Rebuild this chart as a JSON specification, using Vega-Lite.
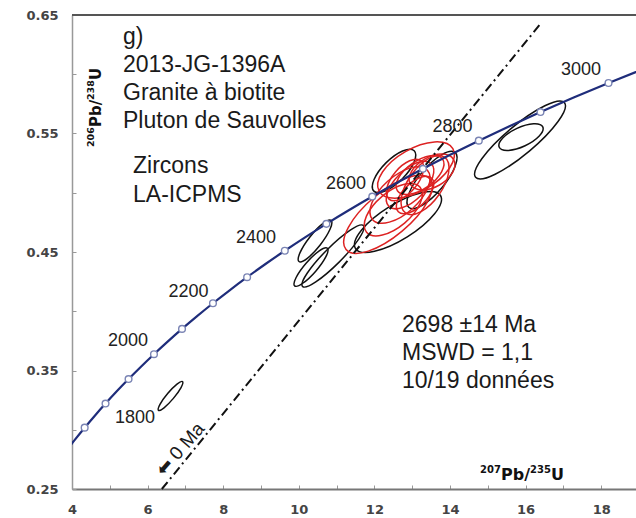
{
  "$schema": "https://vega.github.io/schema/vega-lite/v6.json",
  "width": 564,
  "height": 474,
  "autosize": {"type": "none"},
  "padding": {"left": 72, "top": 15, "right": 0, "bottom": 29},
  "background": "white",
  "config": {"view": {"stroke": null},
    "axisX": {"values": [4,5,6,7,8,9,10,11,12,13,14,15,16,17,18], "labelExpr": "datum.value % 2 === 0 ? datum.label : ''", "title": null, "grid": false, "domainColor": "#777777", "domainWidth": 2, "tickColor": "#999999", "tickSize": -4, "tickWidth": 1, "labelFont": "DejaVu Sans", "labelFontWeight": "bold", "labelFontSize": 13, "labelColor": "#444444", "labelPadding": 18, "labelFlush": false, "labelOverlap": false},
    "axisY": {"values": [0.25,0.3,0.35,0.4,0.45,0.5,0.55,0.6,0.65], "labelExpr": "round(datum.value*100) % 10 == 5 ? format(datum.value, '.2f') : ''", "title": null, "grid": false, "domainColor": "#999999", "domainWidth": 1.5, "tickColor": "#999999", "tickSize": -4, "tickWidth": 1, "labelFont": "DejaVu Sans", "labelFontWeight": "bold", "labelFontSize": 13, "labelColor": "#444444", "labelPadding": 18, "labelFlush": false, "labelOverlap": false}
  },
  "datasets": {
    "ellipses": [
      {"x": 6.606, "y": 0.3285, "axe": 0.99, "forme": "r20", "angle": 310, "grp": "rejetée"},
      {"x": 10.429, "y": 0.4593, "axe": 1.38, "forme": "r25", "angle": 308, "grp": "rejetée"},
      {"x": 10.323, "y": 0.4373, "axe": 1.32, "forme": "r25", "angle": 311, "grp": "rejetée"},
      {"x": 10.905, "y": 0.4466, "axe": 2.28, "forme": "r20", "angle": 315, "grp": "rejetée"},
      {"x": 12.519, "y": 0.5184, "axe": 1.51, "forme": "r40", "angle": 315, "grp": "rejetée"},
      {"x": 12.624, "y": 0.4753, "axe": 2.65, "forme": "r35", "angle": 328, "grp": "rejetée"},
      {"x": 13.524, "y": 0.5108, "axe": 1.9, "forme": "r35", "angle": 310, "grp": "rejetée"},
      {"x": 15.852, "y": 0.5445, "axe": 3.07, "forme": "r25", "angle": 320, "grp": "rejetée"},
      {"x": 15.878, "y": 0.547, "axe": 1.27, "forme": "r40", "angle": 335, "grp": "rejetée"},
      {"x": 13.101, "y": 0.5192, "axe": 2.25, "forme": "r50", "angle": 330, "grp": "retenue"},
      {"x": 12.36, "y": 0.4818, "axe": 2.9, "forme": "r40", "angle": 320, "grp": "retenue"},
      {"x": 12.677, "y": 0.4981, "axe": 1.95, "forme": "r50", "angle": 318, "grp": "retenue"},
      {"x": 12.942, "y": 0.5065, "axe": 1.59, "forme": "r50", "angle": 315, "grp": "retenue"},
      {"x": 13.206, "y": 0.515, "axe": 1.46, "forme": "r50", "angle": 325, "grp": "retenue"},
      {"x": 12.81, "y": 0.5108, "axe": 1.32, "forme": "r50", "angle": 310, "grp": "retenue"},
      {"x": 13.339, "y": 0.5065, "axe": 1.8, "forme": "r50", "angle": 305, "grp": "retenue"},
      {"x": 12.5, "y": 0.4857, "axe": 1.85, "forme": "r50", "angle": 320, "grp": "retenue"},
      {"x": 13.074, "y": 0.4981, "axe": 1.25, "forme": "r50", "angle": 315, "grp": "retenue"},
      {"x": 13.524, "y": 0.5175, "axe": 1.32, "forme": "r60", "angle": 330, "grp": "retenue"}
    ],
    "concordia": [
      {"t": 1600, "x": 3.8344, "y": 0.28171},
      {"t": 1650, "x": 4.0784, "y": 0.2917},
      {"t": 1700, "x": 4.3348, "y": 0.30175},
      {"t": 1750, "x": 4.604, "y": 0.31189},
      {"t": 1800, "x": 4.8869, "y": 0.3221},
      {"t": 1850, "x": 5.184, "y": 0.3324},
      {"t": 1900, "x": 5.4962, "y": 0.34277},
      {"t": 1950, "x": 5.8241, "y": 0.35323},
      {"t": 2000, "x": 6.1685, "y": 0.36377},
      {"t": 2050, "x": 6.5304, "y": 0.37439},
      {"t": 2100, "x": 6.9105, "y": 0.38509},
      {"t": 2150, "x": 7.3097, "y": 0.39587},
      {"t": 2200, "x": 7.7292, "y": 0.40674},
      {"t": 2250, "x": 8.1698, "y": 0.41769},
      {"t": 2300, "x": 8.6326, "y": 0.42873},
      {"t": 2350, "x": 9.1188, "y": 0.43986},
      {"t": 2400, "x": 9.6296, "y": 0.45107},
      {"t": 2450, "x": 10.1661, "y": 0.46237},
      {"t": 2500, "x": 10.7297, "y": 0.47376},
      {"t": 2550, "x": 11.3218, "y": 0.48523},
      {"t": 2600, "x": 11.9437, "y": 0.49679},
      {"t": 2650, "x": 12.5971, "y": 0.50845},
      {"t": 2700, "x": 13.2834, "y": 0.5202},
      {"t": 2750, "x": 14.0043, "y": 0.53203},
      {"t": 2800, "x": 14.7617, "y": 0.54396},
      {"t": 2850, "x": 15.5572, "y": 0.55598},
      {"t": 2900, "x": 16.393, "y": 0.5681},
      {"t": 2950, "x": 17.2709, "y": 0.58031},
      {"t": 3000, "x": 18.1931, "y": 0.59261},
      {"t": 3050, "x": 19.1619, "y": 0.60501}
    ],
    "etiquettes": [
      {"age": "1800", "x": 5.667, "y": 0.3095},
      {"age": "2000", "x": 5.481, "y": 0.3745},
      {"age": "2200", "x": 7.082, "y": 0.4162},
      {"age": "2400", "x": 8.868, "y": 0.4614},
      {"age": "2600", "x": 11.249, "y": 0.5078},
      {"age": "2800", "x": 14.066, "y": 0.5551},
      {"age": "3000", "x": 17.466, "y": 0.6032}
    ],
    "discordia": [
      {"x": 6.3767, "y": 0.25},
      {"x": 16.43, "y": 0.644}
    ],
    "cadre": [{"y": 0.65}],
    "annot": [{"x": 0}]
  },
  "layer": [
    {
      "data": {"name": "ellipses"},
      "mark": {"type": "point", "filled": false, "strokeWidth": 1.5, "opacity": 1},
      "encoding": {
        "x": {"field": "x", "type": "quantitative", "scale": {"domain": [4, 18.92], "nice": false, "zero": false}},
        "y": {"field": "y", "type": "quantitative", "scale": {"domain": [0.25, 0.65], "nice": false, "zero": false}},
        "size": {"field": "axe", "type": "quantitative", "scale": {"type": "pow", "exponent": 2, "domain": [0, 4], "range": [0, 22861]}, "legend": null},
        "shape": {"field": "forme", "type": "nominal", "legend": null, "scale": {
          "domain": ["r20", "r25", "r35", "r40", "r50", "r60"],
          "range": [
            "M1,0C1,0.1105 0.5523,0.2 0,0.2C-0.5523,0.2 -1,0.1105 -1,0C-1,-0.1105 -0.5523,-0.2 0,-0.2C0.5523,-0.2 1,-0.1105 1,0Z",
            "M1,0C1,0.1381 0.5523,0.25 0,0.25C-0.5523,0.25 -1,0.1381 -1,0C-1,-0.1381 -0.5523,-0.25 0,-0.25C0.5523,-0.25 1,-0.1381 1,0Z",
            "M1,0C1,0.1933 0.5523,0.35 0,0.35C-0.5523,0.35 -1,0.1933 -1,0C-1,-0.1933 -0.5523,-0.35 0,-0.35C0.5523,-0.35 1,-0.1933 1,0Z",
            "M1,0C1,0.2209 0.5523,0.4 0,0.4C-0.5523,0.4 -1,0.2209 -1,0C-1,-0.2209 -0.5523,-0.4 0,-0.4C0.5523,-0.4 1,-0.2209 1,0Z",
            "M1,0C1,0.2762 0.5523,0.5 0,0.5C-0.5523,0.5 -1,0.2762 -1,0C-1,-0.2762 -0.5523,-0.5 0,-0.5C0.5523,-0.5 1,-0.2762 1,0Z",
            "M1,0C1,0.3314 0.5523,0.6 0,0.6C-0.5523,0.6 -1,0.3314 -1,0C-1,-0.3314 -0.5523,-0.6 0,-0.6C0.5523,-0.6 1,-0.3314 1,0Z"
          ]}},
        "angle": {"field": "angle", "type": "quantitative", "scale": null},
        "color": {"field": "grp", "type": "nominal", "legend": null, "scale": {"domain": ["retenue", "rejetée"], "range": ["#dd2222", "#111111"]}}
      }
    },
    {
      "data": {"name": "cadre"},
      "mark": {"type": "rule", "color": "#555555", "strokeWidth": 2.2},
      "encoding": {"y": {"field": "y", "type": "quantitative", "scale": {"domain": [0.25, 0.65], "nice": false, "zero": false}}}
    },
    {
      "data": {"name": "discordia"},
      "mark": {"type": "line", "color": "#111111", "strokeWidth": 2, "strokeDash": [9, 4, 2, 4]},
      "encoding": {
        "x": {"field": "x", "type": "quantitative", "scale": {"domain": [4, 18.92], "nice": false, "zero": false}},
        "y": {"field": "y", "type": "quantitative", "scale": {"domain": [0.25, 0.65], "nice": false, "zero": false}}
      }
    },
    {
      "data": {"name": "concordia"},
      "mark": {"type": "line", "color": "#1f2d7b", "strokeWidth": 2.2, "clip": true, "interpolate": "monotone"},
      "encoding": {
        "x": {"field": "x", "type": "quantitative", "scale": {"domain": [4, 18.92], "nice": false, "zero": false}},
        "y": {"field": "y", "type": "quantitative", "scale": {"domain": [0.25, 0.65], "nice": false, "zero": false}},
        "order": {"field": "t", "type": "quantitative"}
      }
    },
    {
      "data": {"name": "concordia"},
      "transform": [{"filter": "datum.t % 100 == 0 && datum.t >= 1700 && datum.t <= 3000"}],
      "mark": {"type": "point", "filled": true, "fill": "white", "stroke": "#7a84b4", "strokeWidth": 1.4, "size": 45, "opacity": 1},
      "encoding": {
        "x": {"field": "x", "type": "quantitative", "scale": {"domain": [4, 18.92], "nice": false, "zero": false}},
        "y": {"field": "y", "type": "quantitative", "scale": {"domain": [0.25, 0.65], "nice": false, "zero": false}}
      }
    },
    {
      "data": {"name": "etiquettes"},
      "mark": {"type": "text", "font": "Liberation Sans", "fontSize": 18, "color": "#222222", "align": "center", "baseline": "middle"},
      "encoding": {
        "x": {"field": "x", "type": "quantitative", "scale": {"domain": [4, 18.92], "nice": false, "zero": false}},
        "y": {"field": "y", "type": "quantitative", "scale": {"domain": [0.25, 0.65], "nice": false, "zero": false}},
        "text": {"field": "age"}
      }
    },
    {
      "data": {"name": "annot"},
      "mark": {"type": "text", "font": "Liberation Sans", "fontSize": 23, "color": "#1a1a1a", "align": "left", "baseline": "alphabetic", "lineHeight": 28},
      "encoding": {
        "x": {"datum": 5.349, "type": "quantitative"},
        "y": {"datum": 0.6255, "type": "quantitative"},
        "text": {"value": ["g)", "2013-JG-1396A", "Granite à biotite", "Pluton de Sauvolles"]}
      }
    },
    {
      "data": {"name": "annot"},
      "mark": {"type": "text", "font": "Liberation Sans", "fontSize": 23, "color": "#1a1a1a", "align": "left", "baseline": "alphabetic", "lineHeight": 29},
      "encoding": {
        "x": {"datum": 5.614, "type": "quantitative"},
        "y": {"datum": 0.5167, "type": "quantitative"},
        "text": {"value": ["Zircons", "LA-ICPMS"]}
      }
    },
    {
      "data": {"name": "annot"},
      "mark": {"type": "text", "font": "Liberation Sans", "fontSize": 23, "color": "#1a1a1a", "align": "left", "baseline": "alphabetic", "lineHeight": 28},
      "encoding": {
        "x": {"datum": 12.73, "type": "quantitative"},
        "y": {"datum": 0.3825, "type": "quantitative"},
        "text": {"value": ["2698 ±14 Ma", "MSWD = 1,1", "10/19 données"]}
      }
    },
    {
      "data": {"name": "annot"},
      "mark": {"type": "text", "font": "Liberation Sans", "fontSize": 19, "color": "#1a1a1a", "align": "center", "baseline": "middle", "angle": 311},
      "encoding": {
        "x": {"datum": 6.86, "type": "quantitative"},
        "y": {"datum": 0.2835, "type": "quantitative"},
        "text": {"value": "⬅ 0 Ma"}
      }
    },
    {
      "data": {"name": "annot"},
      "mark": {"type": "text", "font": "DejaVu Sans", "fontWeight": "bold", "fontSize": 10, "color": "#111111", "align": "left", "baseline": "alphabetic", "dy": -7},
      "encoding": {"x": {"datum": 14.794, "type": "quantitative"}, "y": {"datum": 0.2576, "type": "quantitative"}, "text": {"value": "207"}}
    },
    {
      "data": {"name": "annot"},
      "mark": {"type": "text", "font": "DejaVu Sans", "fontWeight": "bold", "fontSize": 16, "color": "#111111", "align": "left", "baseline": "alphabetic", "dx": 21},
      "encoding": {"x": {"datum": 14.794, "type": "quantitative"}, "y": {"datum": 0.2576, "type": "quantitative"}, "text": {"value": "Pb/"}}
    },
    {
      "data": {"name": "annot"},
      "mark": {"type": "text", "font": "DejaVu Sans", "fontWeight": "bold", "fontSize": 10, "color": "#111111", "align": "left", "baseline": "alphabetic", "dx": 50, "dy": -7},
      "encoding": {"x": {"datum": 14.794, "type": "quantitative"}, "y": {"datum": 0.2576, "type": "quantitative"}, "text": {"value": "235"}}
    },
    {
      "data": {"name": "annot"},
      "mark": {"type": "text", "font": "DejaVu Sans", "fontWeight": "bold", "fontSize": 16, "color": "#111111", "align": "left", "baseline": "alphabetic", "dx": 71},
      "encoding": {"x": {"datum": 14.794, "type": "quantitative"}, "y": {"datum": 0.2576, "type": "quantitative"}, "text": {"value": "U"}}
    },
    {
      "data": {"name": "annot"},
      "mark": {"type": "text", "font": "DejaVu Sans", "fontWeight": "bold", "fontSize": 9.5, "color": "#111111", "align": "left", "baseline": "alphabetic", "angle": 270, "dy": -7},
      "encoding": {"x": {"datum": 4.767, "type": "quantitative"}, "y": {"datum": 0.5386, "type": "quantitative"}, "text": {"value": "206"}}
    },
    {
      "data": {"name": "annot"},
      "mark": {"type": "text", "font": "DejaVu Sans", "fontWeight": "bold", "fontSize": 15, "color": "#111111", "align": "left", "baseline": "alphabetic", "angle": 270, "dx": 20},
      "encoding": {"x": {"datum": 4.767, "type": "quantitative"}, "y": {"datum": 0.5386, "type": "quantitative"}, "text": {"value": "Pb/"}}
    },
    {
      "data": {"name": "annot"},
      "mark": {"type": "text", "font": "DejaVu Sans", "fontWeight": "bold", "fontSize": 9.5, "color": "#111111", "align": "left", "baseline": "alphabetic", "angle": 270, "dx": 47, "dy": -7},
      "encoding": {"x": {"datum": 4.767, "type": "quantitative"}, "y": {"datum": 0.5386, "type": "quantitative"}, "text": {"value": "238"}}
    },
    {
      "data": {"name": "annot"},
      "mark": {"type": "text", "font": "DejaVu Sans", "fontWeight": "bold", "fontSize": 15, "color": "#111111", "align": "left", "baseline": "alphabetic", "angle": 270, "dx": 67},
      "encoding": {"x": {"datum": 4.767, "type": "quantitative"}, "y": {"datum": 0.5386, "type": "quantitative"}, "text": {"value": "U"}}
    }
  ]
}
